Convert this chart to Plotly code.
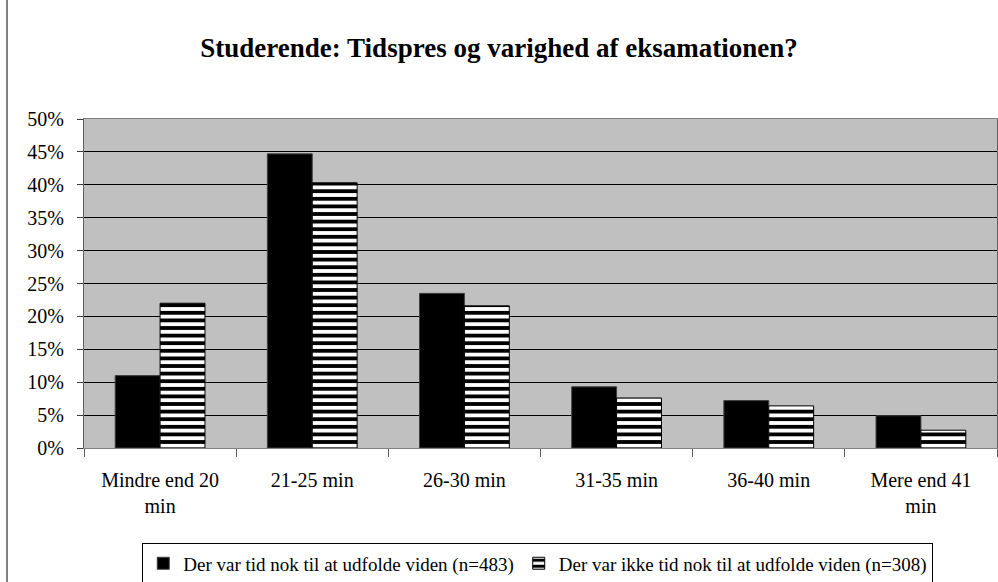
import plotly.graph_objects as go

categories = ["Mindre end 20<br>min", "21-25 min", "26-30 min", "31-35 min", "36-40 min", "Mere end 41<br>min"]
series_names = ["Der var tid nok til at udfolde viden (n=483)",
                "Der var ikke tid nok til at udfolde viden (n=308)"]
values_nok = [11.0, 44.7, 23.5, 9.3, 7.2, 4.9]
values_ikke = [22.0, 40.3, 21.6, 7.6, 6.4, 2.7]
y_ticks = [0, 5, 10, 15, 20, 25, 30, 35, 40, 45, 50]
y_ticktext = [f"{v}%" for v in y_ticks]

FONT = "Liberation Serif, Times New Roman, serif"

fig = go.Figure()
fig.add_trace(go.Bar(
    x=categories, y=values_nok, name=series_names[0],
    marker=dict(color="black", line=dict(color="#404040", width=1)),
))
fig.add_trace(go.Bar(
    x=categories, y=values_ikke, name=series_names[1],
    marker=dict(color="white",
                line=dict(color="black", width=1),
                pattern=dict(shape="-", fgcolor="black", bgcolor="white",
                             size=7.6, solidity=0.5, fillmode="replace")),
))

fig.update_layout(
    width=998, height=582,
    margin=dict(l=84, r=1, t=119, b=134, autoexpand=False),
    paper_bgcolor="white",
    plot_bgcolor="#C0C0C0",
    barmode="group",
    bargap=0.41, bargroupgap=0,
    font=dict(family=FONT, size=20, color="black"),
    title=dict(text="<b>Studerende: Tidspres og varighed af eksamationen?</b>",
               x=0.5, xanchor="center", xref="container", y=0.919, yref="container", yanchor="middle",
               font=dict(family=FONT, size=27, color="black")),
    showlegend=True,
    legend=dict(orientation="h", x=0.497, xanchor="center", y=-0.290, yanchor="top",
                bordercolor="black", borderwidth=1, bgcolor="white",
                font=dict(family=FONT, size=19, color="black"),
                itemwidth=30, tracegroupgap=0),
)
fig.update_yaxes(
    range=[0, 50], tickvals=y_ticks, ticktext=y_ticktext,
    showgrid=True, gridcolor="black", gridwidth=1,
    showline=True, linecolor="#606060", linewidth=1, mirror=True,
    ticks="outside", ticklen=6, tickcolor="#404040",
    ticklabelstandoff=9,
    zeroline=False, fixedrange=True, automargin=False,
)
fig.update_xaxes(
    showline=True, linecolor="#808080", linewidth=1, mirror=True,
    ticks="outside", ticklen=8, tickcolor="#606060", tickson="boundaries",
    ticklabelstandoff=14,
    showgrid=False, automargin=False,
)
# outer chart frame (left edge)
fig.add_shape(type="line", xref="paper", yref="paper",
              x0=(7 - 84) / 913, x1=(7 - 84) / 913, y0=-1, y1=2,
              line=dict(color="black", width=1))

fig.write_html("out.html", config={"displayModeBar": False},
               post_script="document.body.style.margin='0';document.body.style.padding='0';")
